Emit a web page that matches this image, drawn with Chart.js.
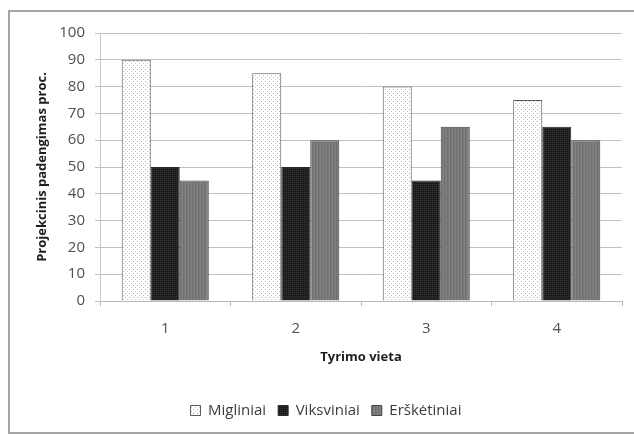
<!DOCTYPE html>
<html>
<head>
<meta charset="utf-8">
<script src="https://cdn.jsdelivr.net/npm/chart.js"></script>
<style>
  html, body { margin: 0; padding: 0; background: #fff; }
  #frame { position: absolute; left: 8px; top: 10px; width: 640px; height: 424px; border: 2px solid #a4a4a4; box-sizing: border-box; }
  #wrap { position: absolute; left: 0; top: 0; width: 634px; height: 435px; }
</style>
</head>
<body>
<div id="frame"></div>
<div id="wrap"><canvas id="coverChart" width="634" height="435"></canvas></div>
<script>
// --- data ---
const categories = ['1', '2', '3', '4'];
const seriesNames = ['Migliniai', 'Viksviniai', 'Erškėtiniai'];
const migliniai = [90, 85, 80, 75];
const viksviniai = [50, 50, 45, 65];
const ersketiniai = [45, 60, 65, 60];
const yMin = 0, yMax = 100, yStep = 10;

// small fill patterns like the office chart
function makePattern(w, h, base, dots) {
    const c = document.createElement('canvas');
    c.width = w; c.height = h;
    const g = c.getContext('2d');
    g.fillStyle = base;
    g.fillRect(0, 0, w, h);
    dots.forEach(d => { g.fillStyle = d[2]; g.fillRect(d[0], d[1], 1, 1); });
    return g.createPattern(c, 'repeat');
}

const dotted = makePattern(4, 4, '#ffffff', [[1, 1, '#b4b4b4'], [3, 3, '#c8c8c8']]);
const darkFill = makePattern(2, 2, '#1c1c1c', [[0, 0, '#363636']]);
const stripes = makePattern(3, 1, '#7a7a7a', [[0, 0, '#707070'], [2, 0, '#828282']]);

const fontFamily = '"Open Sans", Lato, sans-serif';

new Chart(document.getElementById('coverChart').getContext('2d'), {
    type: 'bar',
    data: {
        labels: categories,
        datasets: [
            { label: seriesNames[0], data: migliniai, backgroundColor: dotted, borderColor: '#5a5a5a', borderWidth: 1 },
            { label: seriesNames[1], data: viksviniai, backgroundColor: darkFill, borderColor: '#2a2a2a', borderWidth: 1 },
            { label: seriesNames[2], data: ersketiniai, backgroundColor: stripes, borderColor: '#444444', borderWidth: 1 }
        ]
    },
    options: {
        responsive: false,
        animation: false,
        categoryPercentage: 0.667,
        barPercentage: 1,
        layout: { padding: { left: 30, top: 33, right: 12, bottom: 7 } },
        plugins: {
            tooltip: { enabled: false },
            legend: {
                position: 'bottom',
                labels: {
                    boxWidth: 10, boxHeight: 10, padding: 12,
                    color: '#3c3c3c',
                    font: { family: fontFamily, size: 15 }
                }
            }
        },
        scales: {
            x: {
                grid: { offset: true, drawOnChartArea: false, drawTicks: true, tickLength: 5, color: '#b8b8b8' },
                border: { color: '#b8b8b8' },
                ticks: { color: '#505050', padding: 14, font: { family: fontFamily, size: 15 } },
                title: { display: true, text: 'Tyrimo vieta', color: '#1e1e1e', padding: { top: 0, bottom: 26 }, font: { family: fontFamily, size: 13, weight: 'bold' } },
                afterFit: s => { s.height = 90; }
            },
            y: {
                min: yMin, max: yMax,
                grid: { color: '#c0c0c0', tickLength: 5 },
                border: { color: '#c8c8c8' },
                ticks: { stepSize: yStep, color: '#505050', padding: 10, font: { family: fontFamily, size: 15 } },
                title: { display: true, text: 'Projekcinis padengimas proc.', color: '#1e1e1e', padding: { top: 4, bottom: 0 }, font: { family: fontFamily, size: 13, weight: 'bold' } },
                afterFit: s => { s.width = 70; }
            }
        }
    }
});
</script>
</body>
</html>
